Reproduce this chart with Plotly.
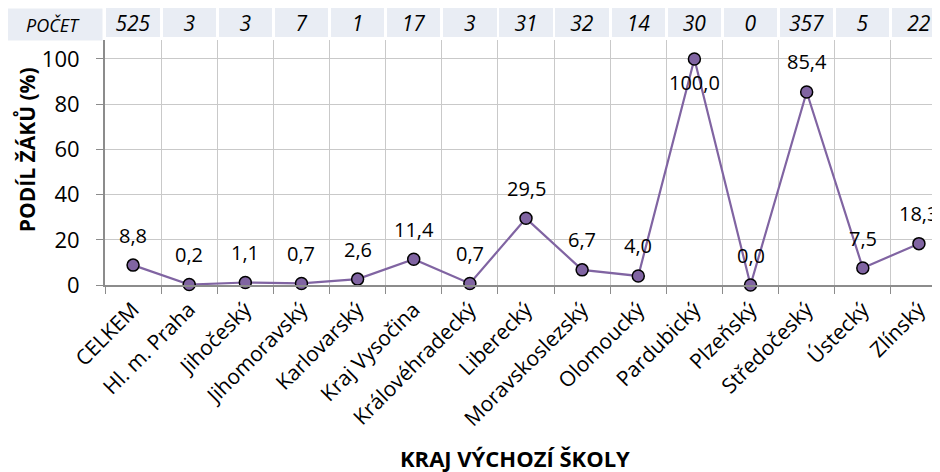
import plotly.graph_objects as go

# === Data ===
regions = ["CELKEM", "Hl. m. Praha", "Jihočeský", "Jihomoravský", "Karlovarský",
           "Kraj Vysočina", "Královéhradecký", "Liberecký", "Moravskoslezský",
           "Olomoucký", "Pardubický", "Plzeňský", "Středočeský", "Ústecký", "Zlínský"]
share_pct = [8.8, 0.2, 1.1, 0.7, 2.6, 11.4, 0.7, 29.5, 6.7, 4.0, 100.0, 0.0, 85.4, 7.5, 18.3]
counts = [525, 3, 3, 7, 1, 17, 3, 31, 32, 14, 30, 0, 357, 5, 22]
count_label = "POČET"
y_title = "PODÍL ŽÁKŮ (%)"
x_title = "KRAJ VÝCHOZÍ ŠKOLY"

FONT = "Open Sans"
PURPLE = "#8064a2"
CELL = "#e9edf4"
GRID = "#c9c9c9"
AXIS = "#8c8c8c"

# the page adds an 8px body margin, so the plot runs a bit past the right edge
x_range = [-0.5, 14.5]

# plot-area heights (px): main panel under the count row
PLOT_H = 277
main_top = (PLOT_H - 32) / PLOT_H
row_bottom = (PLOT_H - 29) / PLOT_H

fig = go.Figure()

# main line
fig.add_trace(go.Scatter(
    x=regions, y=share_pct, mode="lines+markers",
    line=dict(color=PURPLE, width=2.2),
    marker=dict(size=12, color=PURPLE, line=dict(color="black", width=1.5)),
    xaxis="x", yaxis="y", showlegend=False, cliponaxis=False,
))

# count row as cells on top
fig.add_trace(go.Bar(
    x=regions, y=[1] * len(regions), width=0.95,
    marker=dict(color=CELL, line=dict(width=0)),
    text=[str(c) for c in counts], textposition="inside",
    insidetextanchor="middle", textangle=0, constraintext="none",
    textfont=dict(family=FONT, size=21, color="black", style="italic"),
    xaxis="x2", yaxis="y2", showlegend=False, hoverinfo="skip",
))

# data labels
for r, v in zip(regions, share_pct):
    fig.add_annotation(
        x=r, y=v, xref="x", yref="y",
        text=f"{v:.1f}".replace(".", ","), showarrow=False,
        yshift=-24 if v >= 100 else 30,
        font=dict(family=FONT, size=20, color="black"),
    )

# POČET header cell
fig.add_annotation(
    x=0, y=1, xref="paper", yref="paper", xanchor="right", yanchor="top",
    xshift=-2, text=count_label, showarrow=False,
    width=96, height=29, bgcolor=CELL, borderpad=1,
    font=dict(family=FONT, size=18, color="black", style="italic"),
)

# axis titles
fig.add_annotation(
    x=0.487, y=-0.625, xref="paper", yref="paper", showarrow=False,
    xanchor="center", yanchor="middle",
    text=f"<b>{x_title}</b>", font=dict(family=FONT, size=22, color="black"),
)
fig.add_annotation(
    x=-0.0926, y=0.487, xref="paper", yref="paper", showarrow=False,
    xanchor="center", yanchor="middle", textangle=-90,
    text=f"<b>{y_title}</b>", font=dict(family=FONT, size=21, color="black"),
)

fig.update_layout(
    width=940, height=472,
    margin=dict(l=97, r=1, t=0, b=472 - PLOT_H),
    paper_bgcolor="white", plot_bgcolor="white",
    font=dict(family=FONT, size=20, color="black"),
    bargap=0,
    xaxis=dict(
        type="category", categoryorder="array", categoryarray=regions,
        range=x_range, tickson="boundaries", showgrid=True, gridcolor=GRID,
        gridwidth=1.3, showline=True, linecolor=AXIS, linewidth=2,
        ticks="outside", ticklen=7, tickcolor=AXIS, tickwidth=1.3,
        tickangle=-45, tickfont=dict(family=FONT, size=21), ticklabelstandoff=2,
        anchor="y", domain=[0, 1],
    ),
    yaxis=dict(
        domain=[0, main_top], range=[0, 108.4], tickvals=[0, 20, 40, 60, 80, 100],
        showgrid=True, gridcolor=GRID, gridwidth=1.3, zeroline=False,
        showline=True, linecolor=AXIS, linewidth=2,
        ticks="outside", ticklen=7, tickcolor=AXIS, tickwidth=1.3,
        tickfont=dict(family=FONT, size=22), ticklabelstandoff=12,
    ),
    xaxis2=dict(
        type="category", categoryorder="array", categoryarray=regions,
        range=x_range, anchor="y2", showgrid=False, showticklabels=False,
        showline=False, zeroline=False, ticks="",
    ),
    yaxis2=dict(
        domain=[row_bottom, 1], range=[0, 1], showgrid=False,
        showticklabels=False, showline=False, zeroline=False,
    ),
)

fig.write_html("out.html")
